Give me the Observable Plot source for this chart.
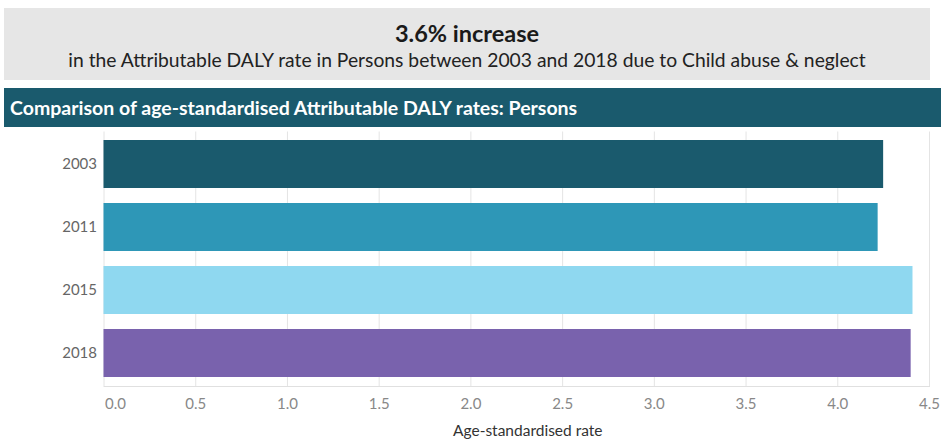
<!DOCTYPE html>
<html>
<head>
<meta charset="utf-8">
<script src="https://cdn.jsdelivr.net/npm/d3@7"></script>
<script src="https://cdn.jsdelivr.net/npm/@observablehq/plot@0.6"></script>
<style>
  html, body { margin: 0; padding: 0; background: #fff; }
  body { width: 941px; height: 443px; position: relative; overflow: hidden; font-family: Lato, "Open Sans", sans-serif; }
  #kpi { position: absolute; left: 4px; top: 8px; width: 926px; height: 72px; background: #e6e6e6; text-align: center; color: #1a1a1a; }
  #kpi .big { position: absolute; left: 0; right: 0; top: 11px; font-size: 23.5px; font-weight: 700; line-height: 28px; }
  #kpi .sub { position: absolute; left: 0; right: 0; top: 41px; font-size: 19.3px; line-height: 22px; color: #222; }
  #band { position: absolute; left: 4px; top: 88px; width: 937px; height: 39px; background: #1a5a6d; color: #fff; font-weight: 700; font-size: 19.5px; line-height: 39px; padding-left: 6px; box-sizing: border-box; }
  #chart { position: absolute; left: 0; top: 128px; }
</style>
</head>
<body>
<div id="kpi">
  <div class="big">3.6% increase</div>
  <div class="sub">in the Attributable DALY rate in Persons between 2003 and 2018 due to Child abuse &amp; neglect</div>
</div>
<div id="band">Comparison of age-standardised Attributable DALY rates: Persons</div>
<div id="chart"></div>
<script>
const years = ["2003", "2011", "2015", "2018"];
const rates = [4.25, 4.22, 4.41, 4.40];
const barColors = ["#1a5a6d", "#2e97b7", "#8fd8f0", "#7962ad"];
const xTicks = [0, 0.5, 1, 1.5, 2, 2.5, 3, 3.5, 4, 4.5];
const xLabel = "Age-standardised rate";

const data = years.map((y, i) => ({year: y, rate: rates[i]}));

const plot = Plot.plot({
  width: 941,
  height: 315,
  marginTop: 3.5,
  marginBottom: 57,
  marginLeft: 103.5,
  marginRight: 12,
  style: {fontFamily: "Lato, 'Open Sans', sans-serif", fontSize: "15px", color: "#666", background: "transparent"},
  x: {domain: [0, 4.5], ticks: xTicks},
  y: {domain: years, paddingInner: 0.245, paddingOuter: 0.1225},
  color: {domain: years, range: barColors},
  marks: [
    Plot.gridX(xTicks, {stroke: "#e4e4e4", strokeOpacity: 1}),
    Plot.frame({anchor: "bottom", stroke: "#e0e0e0"}),
    Plot.barX(data, {x: "rate", y: "year", fill: "year"}),
    Plot.axisX({ticks: xTicks.slice(1), tickFormat: d3.format(".1f"), tickSize: 0, tickPadding: 12, label: null, fill: "#888", fontSize: 15}),
    Plot.axisX({ticks: xTicks.slice(0, 1), tickFormat: d3.format(".1f"), tickSize: 0, tickPadding: 12, label: null, fill: "#888", fontSize: 15, textAnchor: "start", dx: 1}),
    Plot.axisY({tickSize: 0, tickPadding: 7, label: null, fill: "#666", fontSize: 15}),
    Plot.text([xLabel], {frameAnchor: "bottom", dy: 49, text: d => d, fill: "#333", fontSize: 15.5, dx: 11})
  ]
});
document.getElementById("chart").appendChild(plot);
</script>
</body>
</html>
